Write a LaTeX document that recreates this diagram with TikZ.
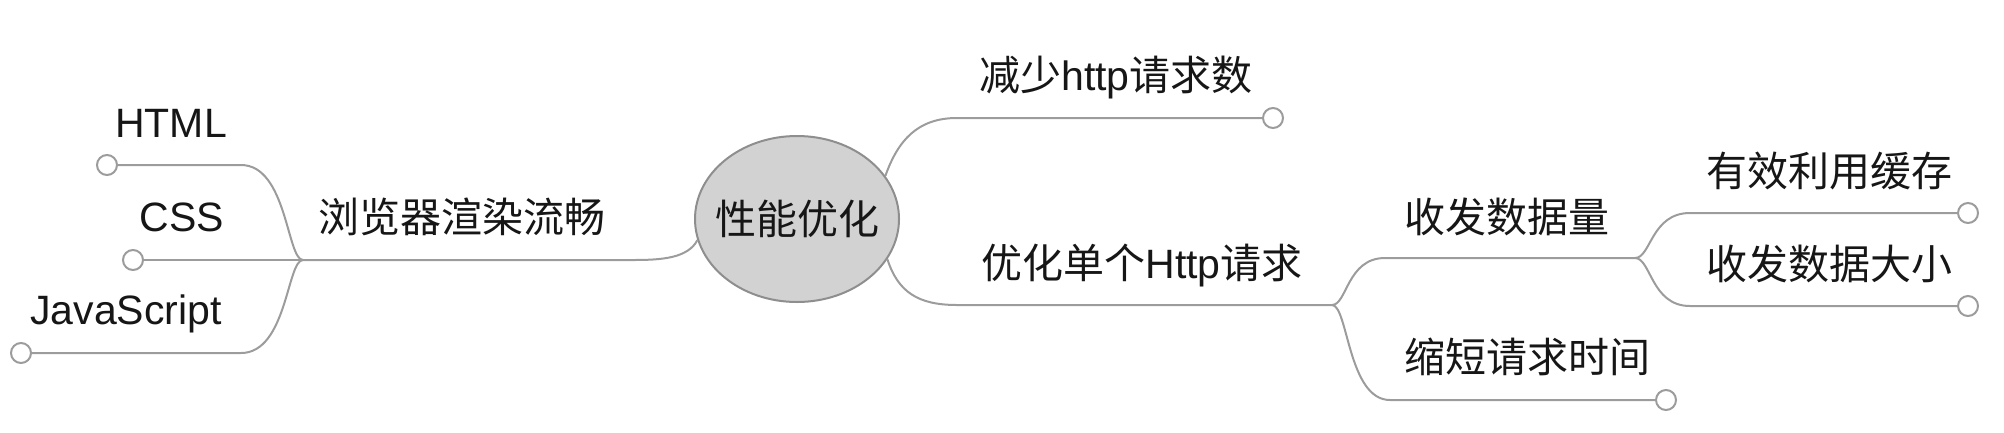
\documentclass[tikz,border=0pt]{standalone}
\usepackage{fontspec}
\setmainfont{Liberation Sans}
\newfontfamily\cjk{Noto Sans CJK SC}
\usetikzlibrary{shapes.geometric}
\definecolor{linegray}{HTML}{9C9C9C}
\definecolor{hubfill}{HTML}{D2D2D2}
\definecolor{hubborder}{HTML}{8E8E8E}
\definecolor{txtcol}{HTML}{161616}
\begin{document}
\begin{tikzpicture}[x=1pt,y=-1pt,
  conn/.style={draw=linegray,line width=2pt},
  leaf/.style={circle,draw=linegray,fill=white,line width=2pt,minimum size=20pt,inner sep=0pt},
  lbl/.style={inner sep=0pt,text=txtcol,font=\fontsize{41}{41}\selectfont},
  hub/.style={ellipse,draw=hubborder,fill=hubfill,line width=2pt,minimum width=204pt,minimum height=166pt,inner xsep=-11pt,inner ysep=0pt,text=txtcol,font=\fontsize{41}{41}\selectfont}]
\useasboundingbox (0,0) rectangle (2004,432);

% hub
\node[hub] (c) at (797,219) {\cjk 性能优化};

% labels
\node[lbl] (tHTML) at (171,123) {HTML};
\node[lbl] (tCSS) at (182,217) {CSS};
\node[lbl] (tJS) at (126,314) {JavaScript};
\node[lbl] (tL) at (462,217) {\cjk 浏览器渲染流畅};
\node[lbl] (tR1) at (1116,78) {{\cjk 减少}http{\cjk 请求数}};
\node[lbl] (tR2) at (1142,266) {{\cjk 优化单个}Http{\cjk 请求}};
\node[lbl] (tR21) at (1507,217) {\cjk 收发数据量};
\node[lbl] (tR22) at (1527,357) {\cjk 缩短请求时间};
\node[lbl] (tR211) at (1829,171) {\cjk 有效利用缓存};
\node[lbl] (tR212) at (1829,264) {\cjk 收发数据大小};

% junctions and bend ends
\coordinate (jl) at (303,260);
\coordinate (jr1) at (1332,305);
\coordinate (jr2) at (1635,258);
\coordinate (bL) at (634,260);
\coordinate (bH) at (241,165);
\coordinate (bJ) at (241,353);
\coordinate (bR1) at (957,118);
\coordinate (bR2) at (957,305);
\coordinate (bR21) at (1385,258);
\coordinate (bR22) at (1390,400);
\coordinate (bR211) at (1690,213);
\coordinate (bR212) at (1690,306);

% connectors
\draw[conn] (c.192) .. controls (688,258) and (662,260) .. (bL) -- (jl);
\draw[conn] (jl) .. controls (287,260) and (287,165) .. (bH) -- (107,165);
\draw[conn] (jl) -- (133,260);
\draw[conn] (jl) .. controls (287,260) and (287,353) .. (bJ) -- (21,353);
\draw[conn] (c.26) .. controls (898,140) and (918,118) .. (bR1) -- (1273,118);
\draw[conn] (c.-24) .. controls (898,292) and (918,305) .. (bR2) -- (jr1);
\draw[conn] (jr1) .. controls (1347,305) and (1347,258) .. (bR21) -- (jr2);
\draw[conn] (jr1) .. controls (1348,305) and (1348,400) .. (bR22) -- (1666,400);
\draw[conn] (jr2) .. controls (1651,258) and (1651,213) .. (bR211) -- (1968,213);
\draw[conn] (jr2) .. controls (1651,258) and (1651,306) .. (bR212) -- (1968,306);

% leaves
\node[leaf] (lH) at (107,165) {};
\node[leaf] (lC) at (133,260) {};
\node[leaf] (lJ) at (21,353) {};
\node[leaf] (lR1) at (1273,118) {};
\node[leaf] (lR22) at (1666,400) {};
\node[leaf] (lR211) at (1968,213) {};
\node[leaf] (lR212) at (1968,306) {};
\end{tikzpicture}
\end{document}
